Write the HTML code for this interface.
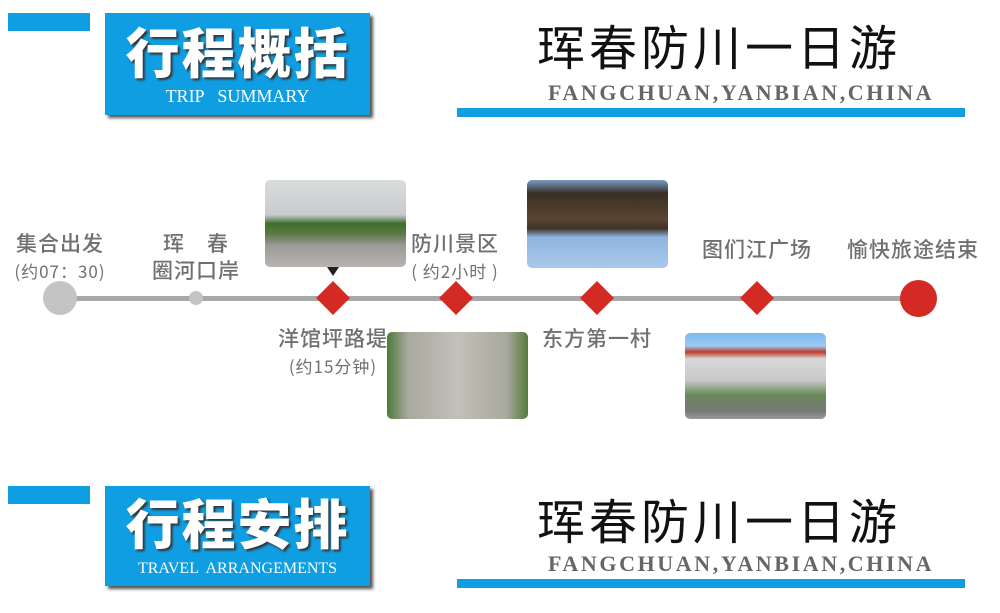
<!DOCTYPE html>
<html><head><meta charset="utf-8"><style>
body{margin:0;width:1000px;height:613px;background:#fff;position:relative;overflow:hidden;font-family:"Liberation Sans","Noto Sans CJK SC",sans-serif}
.a{position:absolute}
.bar{background:#109ee3}
.box{background:#109ee3;box-shadow:3px 3px 3px #555}
.ttl{color:#fff;font-weight:900;font-size:54px;letter-spacing:2px;width:265px;text-align:center;text-shadow:2px 2px 2px #333;line-height:60px}
.sub{color:#fff;font-family:"Liberation Serif",serif;font-size:18px;width:265px;text-align:center;white-space:pre}
.cn{font-family:"Noto Sans CJK SC",sans-serif;font-size:48px;color:#111;letter-spacing:4px;line-height:52px;white-space:nowrap}
.en{font-family:"Liberation Serif",serif;font-weight:bold;font-size:22px;color:#666;letter-spacing:2.6px;white-space:nowrap}
.lb{color:#707070;font-size:21px;text-align:center;width:160px;line-height:27px;font-family:"Noto Sans CJK SC",sans-serif;font-weight:500;letter-spacing:1px}
.sm{font-size:17px;font-weight:normal}
.dm{width:24px;height:24px;background:#d42a24;transform:rotate(45deg)}
.ph{border-radius:5px}
</style></head><body>
<div class="a bar" style="left:8px;top:13px;width:82px;height:18px"></div>
<div class="a box" style="left:105px;top:13px;width:265px;height:102px"></div>
<div class="a ttl" style="left:105px;top:25px">行程概括</div>
<div class="a sub" style="left:105px;top:86px">TRIP   SUMMARY</div>
<div class="a cn" style="left:537px;top:18px">珲春防川一日游</div>
<div class="a en" style="left:548px;top:80px">FANGCHUAN,YANBIAN,CHINA</div>
<div class="a bar" style="left:457px;top:108px;width:508px;height:9px"></div>

<div class="a" style="left:60px;top:296px;width:860px;height:5px;background:#a8a8a8"></div>
<div class="a" style="left:43px;top:281px;width:34px;height:34px;border-radius:50%;background:#c4c4c4"></div>
<div class="a" style="left:189px;top:291px;width:14px;height:14px;border-radius:50%;background:#c4c4c4"></div>
<div class="a dm" style="left:321px;top:286px"></div>
<div class="a dm" style="left:444px;top:286px"></div>
<div class="a dm" style="left:585px;top:286px"></div>
<div class="a dm" style="left:745px;top:286px"></div>
<div class="a" style="left:900px;top:280px;width:37px;height:37px;border-radius:50%;background:#d42a24"></div>

<div class="a lb" style="left:-20px;top:230px">集合出发<br><span class="sm">(约07：30)</span></div>
<div class="a lb" style="left:116px;top:230px">珲　春<br>圈河口岸</div>
<div class="a lb" style="left:375px;top:230px">防川景区<br><span class="sm">( 约2小时 )</span></div>
<div class="a lb" style="left:253px;top:325px">洋馆坪路堤<br><span class="sm">(约15分钟)</span></div>
<div class="a lb" style="left:517px;top:325px">东方第一村</div>
<div class="a lb" style="left:677px;top:236px">图们江广场</div>
<div class="a lb" style="left:833px;top:236px">愉快旅途结束</div>

<div class="a ph" style="left:265px;top:180px;width:141px;height:87px;background:linear-gradient(#d8dcdc 0%,#c8cccc 40%,#3f6e2c 50%,#5a7a44 62%,#9a9a98 75%,#b8b4b0 100%)"></div>
<div class="a" style="left:327px;top:267px;border:6px solid transparent;border-top:9px solid #222"></div>
<div class="a ph" style="left:387px;top:332px;width:141px;height:87px;background:linear-gradient(90deg,#4d7a3a 0%,#a9a9a0 15%,#c2c0b8 50%,#a8a89e 85%,#557a3c 100%)"></div>
<div class="a ph" style="left:527px;top:180px;width:141px;height:88px;background:linear-gradient(#7a9cc4 0%,#3a2e24 15%,#5a4632 45%,#3e3226 55%,#8fb4e0 65%,#aac8ec 100%)"></div>
<div class="a ph" style="left:685px;top:333px;width:141px;height:86px;background:linear-gradient(#7bbaf0 0%,#9ccaf2 15%,#c0392b 22%,#d8d8d8 30%,#c8c8c8 55%,#6a8a5a 72%,#777 90%,#999 100%)"></div>

<div class="a bar" style="left:8px;top:486px;width:82px;height:18px"></div>
<div class="a box" style="left:105px;top:486px;width:265px;height:100px"></div>
<div class="a ttl" style="left:105px;top:496px">行程安排</div>
<div class="a sub" style="left:105px;top:560px;font-size:16px">TRAVEL  ARRANGEMENTS</div>
<div class="a cn" style="left:537px;top:492px">珲春防川一日游</div>
<div class="a en" style="left:548px;top:551px">FANGCHUAN,YANBIAN,CHINA</div>
<div class="a bar" style="left:457px;top:579px;width:508px;height:9px"></div>
</body></html>
